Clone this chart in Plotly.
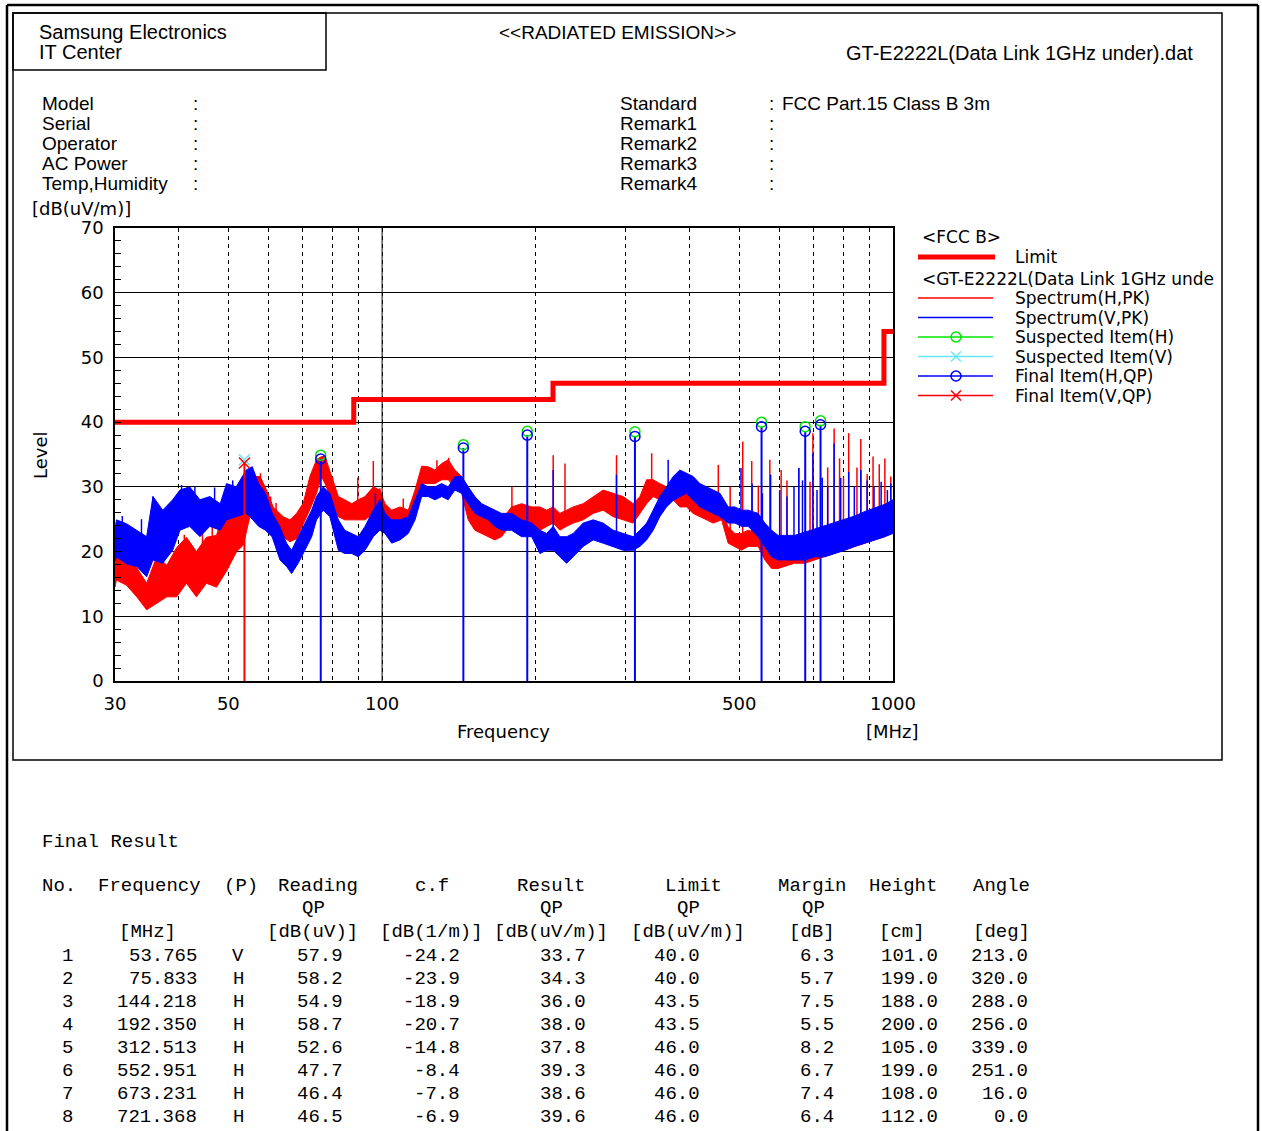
import math
import plotly.graph_objects as go

W, H = 1262, 1131

# ---------------- data ----------------
# Spectrum(H,PK) - red: envelope of the noisy trace (low / high edges), dB(uV/m)
h_freq = [30.0, 30.2, 31.6, 33.1, 34.6, 36.2, 37.9, 39.6, 41.4, 43.3, 45.3, 47.4, 49.6, 51.9, 53.5,
          55.1, 57.7, 59.4, 61.2, 64.0, 66.0, 68.0, 70.1, 72.2, 74.4, 76.1, 77.3, 79.7, 82.1, 84.5,
          87.2, 89.8, 92.6, 96.1, 99.0, 101.3, 104.4, 108.4, 112.5, 116.0, 119.5, 123.1, 126.9, 130.8,
          134.7, 138.8, 143.1, 147.4, 151.9, 156.6, 161.3, 166.2, 171.3, 179.2, 187.5, 196.2, 203.6,
          209.9, 216.2, 222.8, 229.7, 236.6, 247.5, 258.9, 270.8, 283.3, 296.4, 310.0, 319.6, 329.4,
          339.3, 349.6, 360.3, 371.3, 382.7, 394.4, 406.3, 418.7, 431.6, 444.6, 461.8, 475.8, 490.3,
          505.3, 520.5, 544.5, 561.3, 578.5, 596.0, 614.0, 642.0, 672.0, 703.0, 735.0, 769.0, 805.0,
          842.0, 881.0, 921.0, 964.0, 1000.0]
h_lo = [14.5, 15.6, 14.8, 13.0, 11.0, 12.0, 13.0, 13.0, 15.1, 13.0, 15.1, 14.5, 17.0, 20.0, 21.0,
        25.4, 25.0, 24.9, 23.8, 22.3, 21.5, 22.0, 24.4, 26.5, 29.0, 31.6, 30.5, 28.0, 25.4, 24.9,
        24.9, 24.9, 24.9, 25.9, 26.4, 25.4, 24.4, 24.9, 24.4, 25.4, 30.5, 30.5, 30.5, 31.1,
        31.1, 30.0, 29.0, 24.9, 23.3, 22.8, 22.3, 21.8, 22.3, 24.4, 24.0, 24.4, 23.3,
        23.9, 24.4, 23.3, 23.9, 24.4, 24.9, 25.9, 26.4, 25.4, 24.9, 24.4, 25.9, 27.4,
        28.5, 28.0, 27.0, 28.0, 26.9, 26.9, 25.9, 25.4, 24.9, 24.4, 24.9, 21.3, 20.8,
        20.2, 20.8, 20.8, 18.7, 17.4, 17.4, 17.7, 18.2, 18.2, 18.7, 19.2, 19.7, 20.2,
        20.8, 21.3, 21.8, 22.3, 23.3]
h_hi = [19.5, 19.2, 19.0, 17.5, 15.1, 19.2, 17.9, 20.6, 22.2, 20.0, 22.2, 22.5, 27.5, 29.0, 29.5,
        31.6, 31.6, 29.5, 26.9, 25.4, 24.9, 25.9, 27.5, 31.6, 34.2, 34.7, 34.7, 31.6, 28.5, 28.0,
        27.4, 28.0, 28.5, 30.0, 29.5, 27.4, 26.4, 26.9, 26.4, 29.5, 33.2, 33.1, 32.6, 33.6,
        34.2, 32.6, 31.6, 28.0, 26.4, 25.4, 24.9, 24.4, 24.9, 26.9, 27.4, 26.9, 26.9,
        26.4, 26.9, 25.9, 26.4, 26.9, 27.4, 28.5, 29.5, 29.0, 28.5, 27.4, 28.5, 31.1,
        31.1, 30.5, 30.0, 30.0, 30.0, 29.5, 29.0, 27.9, 27.4, 26.9, 26.4, 23.8, 22.8,
        22.8, 23.3, 22.8, 20.8, 19.2, 18.9, 19.2, 19.7, 20.2, 20.8, 21.3, 21.8, 22.3,
        22.8, 23.9, 24.9, 25.4, 26.4]

# Spectrum(V,PK) - blue
v_freq = [30.0, 30.2, 31.6, 33.1, 34.6, 35.6, 37.2, 38.9, 40.2, 42.0, 44.0, 46.0, 48.2, 49.6, 51.8,
          54.2, 55.7, 57.3, 59.1, 60.9, 63.1, 65.0, 66.5, 68.5, 70.6, 72.8, 74.4, 76.7, 79.0, 82.1,
          84.5, 87.2, 89.8, 92.6, 96.1, 99.0, 101.3, 104.4, 108.4, 112.5, 116.0, 119.5, 123.1, 126.9,
          130.8, 134.7, 138.8, 143.1, 147.4, 151.9, 156.6, 161.3, 166.2, 171.3, 179.2, 187.5, 196.2,
          203.6, 209.9, 216.2, 222.8, 229.7, 236.6, 247.5, 258.9, 270.8, 283.3, 296.4, 310.0, 319.6,
          329.4, 339.3, 349.6, 360.3, 371.3, 382.7, 394.4, 406.3, 418.7, 431.6, 444.6, 458.4, 475.8,
          490.3, 505.3, 520.5, 544.5, 561.3, 578.5, 596.0, 614.0, 642.0, 672.0, 703.0, 735.0, 769.0,
          805.0, 842.0, 881.0, 921.0, 964.0, 1000.0]
v_lo = [18.5, 19.2, 18.1, 17.7, 16.1, 18.7, 18.2, 20.2, 23.3, 23.9, 22.3, 23.9, 23.3, 24.9, 25.4,
        25.9, 25.0, 23.9, 23.3, 22.3, 18.7, 17.7, 16.6, 18.2, 20.2, 22.3, 24.9, 26.4, 25.4, 20.2,
        19.7, 19.7, 19.2, 20.2, 22.3, 23.3, 22.8, 21.3, 21.8, 22.8, 24.9, 28.5, 28.5, 28.0,
        28.5, 28.0, 29.5, 29.0, 27.4, 25.9, 25.4, 24.9, 23.9, 23.3, 23.3, 22.3, 22.3,
        19.7, 20.2, 20.2, 19.2, 18.2, 19.2, 20.8, 21.8, 21.3, 20.8, 20.2, 20.2, 20.8,
        21.8, 23.3, 25.4, 26.9, 27.9, 28.5, 29.0, 27.9, 26.9, 26.4, 25.9, 25.4, 24.4,
        24.4, 23.9, 23.9, 22.3, 20.8, 19.2, 18.7, 18.7, 18.7, 18.7, 19.2, 19.2, 19.7,
        20.2, 20.8, 21.3, 21.8, 22.3, 22.8]
v_hi = [23.5, 24.9, 24.3, 23.3, 22.3, 28.5, 26.4, 28.0, 29.5, 30.0, 28.0, 28.5, 27.4, 30.5, 30.0,
        32.6, 33.1, 30.5, 29.0, 26.0, 23.8, 21.3, 20.2, 22.3, 24.3, 26.4, 28.5, 30.0, 29.0, 24.9,
        23.3, 22.8, 22.3, 23.9, 26.4, 28.0, 25.9, 24.9, 24.9, 25.4, 28.0, 30.5, 30.0, 30.0,
        30.5, 30.0, 31.6, 31.6, 30.0, 28.5, 27.4, 26.9, 26.4, 25.9, 25.9, 24.9, 24.4,
        23.3, 22.8, 23.9, 22.3, 22.3, 22.8, 24.4, 24.9, 24.4, 23.3, 22.8, 22.3, 23.3,
        24.4, 26.4, 28.5, 30.0, 31.6, 32.6, 32.1, 31.6, 30.5, 30.0, 29.5, 29.0, 26.9,
        26.9, 26.4, 26.4, 25.9, 24.4, 23.3, 22.5, 22.5, 22.5, 23.0, 23.5, 24.0, 24.5,
        25.0, 25.5, 26.2, 26.8, 27.3, 28.0]

# narrow spikes rising out of the traces (base, top)
h_spike_f = [36.5, 41.0, 44.5, 46.5, 48.5, 50.5, 55.3, 57.8, 60.5, 62.0, 80.0, 89.6, 96.1, 99.0,
             110.0, 128.0, 135.0, 179.5, 216.2, 228.0, 287.6, 337.0, 455.0, 480.0, 508.0, 529.0,
             545.0, 574.0, 604.0, 620.0, 654.0, 688.0, 697.0, 727.0, 745.0, 767.0, 786.0, 800.0,
             819.0, 850.0, 865.0, 890.0, 914.0, 940.0, 964.0, 990.0]
h_spike_base = [14.0, 16.0, 16.0, 16.0, 18.0, 20.0, 29.0, 29.0, 25.0, 24.0, 28.5, 27.0, 28.0, 28.0,
                25.5, 31.0, 31.5, 25.0, 26.0, 25.5, 28.0, 30.0, 26.0, 22.0, 22.0, 22.0,
                21.0, 20.0, 20.0, 19.0, 20.0, 20.0, 20.0, 21.0, 21.0, 21.0, 21.0, 21.0,
                22.0, 22.0, 22.0, 23.0, 23.0, 23.0, 24.0, 25.0]
h_spike_top = [20.5, 22.6, 23.0, 24.0, 26.8, 28.5, 32.0, 32.1, 28.5, 27.5, 31.5, 31.4, 34.0, 29.8,
               28.2, 34.1, 34.5, 30.0, 34.9, 33.6, 34.9, 35.2, 33.4, 30.0, 37.0, 34.0,
               30.2, 34.2, 32.6, 31.0, 32.9, 30.8, 38.3, 31.4, 33.0, 39.0, 34.4, 31.5,
               38.3, 33.0, 37.4, 32.0, 34.7, 33.5, 34.4, 31.6]

v_spike_f = [31.0, 33.8, 35.6, 40.5, 43.0, 47.0, 51.0, 53.0, 55.7, 97.0, 216.2, 287.6, 363.0,
             504.0, 530.0, 555.0, 576.0, 600.0, 620.0, 640.0, 654.0, 665.0, 697.0, 710.0, 727.0,
             745.0, 767.0, 790.0, 819.0, 840.0, 865.0, 890.0, 918.0, 948.0, 975.0, 990.0]
v_spike_base = [22.0, 21.0, 25.0, 27.0, 27.0, 27.0, 28.0, 28.0, 30.0, 26.0, 23.0, 22.0, 29.0,
                26.0, 25.0, 24.0, 22.0, 21.0, 21.0, 21.0, 21.0, 21.0, 21.0, 22.0, 22.0,
                22.0, 22.0, 23.0, 23.0, 23.0, 24.0, 24.0, 25.0, 25.0, 26.0, 26.0]
v_spike_top = [25.5, 25.0, 28.5, 30.3, 30.0, 29.9, 31.0, 30.5, 33.1, 29.0, 32.6, 31.9, 34.2,
               32.9, 30.5, 29.0, 31.9, 29.5, 28.5, 30.0, 32.9, 31.0, 35.2, 29.5, 31.4,
               30.0, 36.7, 31.4, 32.3, 30.0, 32.6, 31.0, 30.0, 30.8, 29.5, 30.5]

# FCC Part 15 Class B 3m limit
limit_f = [30, 88, 216, 960, 1000]
limit_v = [40.0, 43.5, 46.0, 54.0, 54.0]

# Suspected items
susp_h_f = [75.833, 144.218, 192.350, 312.513, 552.951, 673.231, 721.368]
susp_h_v = [34.9, 36.5, 38.6, 38.5, 40.0, 39.3, 40.2]
susp_v_f = [53.765]
susp_v_v = [34.2]

# Final result table
fin_no = [1, 2, 3, 4, 5, 6, 7, 8]
fin_freq = [53.765, 75.833, 144.218, 192.350, 312.513, 552.951, 673.231, 721.368]
fin_pol = ["V", "H", "H", "H", "H", "H", "H", "H"]
fin_read = [57.9, 58.2, 54.9, 58.7, 52.6, 47.7, 46.4, 46.5]
fin_cf = [-24.2, -23.9, -18.9, -20.7, -14.8, -8.4, -7.8, -6.9]
fin_result = [33.7, 34.3, 36.0, 38.0, 37.8, 39.3, 38.6, 39.6]
fin_limit = [40.0, 40.0, 43.5, 43.5, 46.0, 46.0, 46.0, 46.0]
fin_margin = [6.3, 5.7, 7.5, 5.5, 8.2, 6.7, 7.4, 6.4]
fin_height = [101.0, 199.0, 188.0, 200.0, 105.0, 199.0, 108.0, 112.0]
fin_angle = [213.0, 320.0, 288.0, 256.0, 339.0, 251.0, 16.0, 0.0]

x_tickvals = [30, 40, 50, 60, 70, 80, 90, 100, 200, 300, 400, 500, 600, 700, 800, 900, 1000]
x_ticktext = ["30", "", "50", "", "", "", "", "100", "", "", "", "500", "", "", "", "", "1000"]

# ---------------- styling ----------------
RED = "#ff0000"
BLUE = "#0000ff"
GREEN = "#00e600"
CYAN = "#66e6ff"
F_UI = "DejaVu Sans, Liberation Sans, sans-serif"
F_HDR = "Liberation Sans, Arial, sans-serif"
F_TAB = "Liberation Mono, DejaVu Sans Mono, monospace"

fig = go.Figure()


def band(freq, lo, hi, color):
    return go.Scatter(x=list(freq) + list(freq)[::-1], y=list(hi) + list(lo)[::-1],
                      fill="toself", fillcolor=color, mode="lines",
                      line=dict(color=color, width=1), hoverinfo="skip", showlegend=False)


def spikes(freq, base, top, color, width=1.5):
    xs, ys = [], []
    for f, b, t in zip(freq, base, top):
        xs += [f, f, None]
        ys += [b, t, None]
    return go.Scatter(x=xs, y=ys, mode="lines", line=dict(color=color, width=width),
                      hoverinfo="skip", showlegend=False)


fig.add_trace(band(h_freq, h_lo, h_hi, RED))
fig.add_trace(spikes(h_spike_f, h_spike_base, h_spike_top, RED))
fig.add_trace(band(v_freq, v_lo, v_hi, BLUE))
fig.add_trace(spikes(v_spike_f, v_spike_base, v_spike_top, BLUE))

# solid 100 MHz grid line
fig.add_trace(go.Scatter(x=[100, 100], y=[0, 70], mode="lines", line=dict(color="black", width=1),
                         hoverinfo="skip", showlegend=False))

# limit
fig.add_trace(go.Scatter(x=limit_f, y=limit_v, mode="lines", line_shape="hv",
                         line=dict(color=RED, width=5), showlegend=False))

# final item stems
for f, r, p in zip(fin_freq, fin_result, fin_pol):
    fig.add_trace(go.Scatter(x=[f, f], y=[0, r], mode="lines",
                             line=dict(color=BLUE if p == "H" else RED, width=2),
                             hoverinfo="skip", showlegend=False))

# suspected markers
fig.add_trace(go.Scatter(x=susp_h_f, y=susp_h_v, mode="markers",
                         marker=dict(symbol="circle-open", size=10, color=GREEN, line=dict(width=1.5)),
                         showlegend=False))
fig.add_trace(go.Scatter(x=susp_v_f, y=susp_v_v, mode="markers",
                         marker=dict(symbol="x-thin-open", size=11, color=CYAN, line=dict(width=1.5, color=CYAN)),
                         showlegend=False))
# final markers
hf = [f for f, p in zip(fin_freq, fin_pol) if p == "H"]
hr = [r for r, p in zip(fin_result, fin_pol) if p == "H"]
vf = [f for f, p in zip(fin_freq, fin_pol) if p == "V"]
vr = [r for r, p in zip(fin_result, fin_pol) if p == "V"]
fig.add_trace(go.Scatter(x=hf, y=hr, mode="markers",
                         marker=dict(symbol="circle-open", size=10, color=BLUE, line=dict(width=1.5)),
                         showlegend=False))
fig.add_trace(go.Scatter(x=vf, y=vr, mode="markers",
                         marker=dict(symbol="x-thin-open", size=11, color=RED, line=dict(width=1.5, color=RED)),
                         showlegend=False))

# ---------------- overlay (pixel) axes for page decorations ----------------
shapes = []
annots = []


def line(x0, y0, x1, y1, color="black", width=1.5):
    shapes.append(dict(type="line", xref="x2", yref="y2", x0=x0, y0=y0, x1=x1, y1=y1,
                       line=dict(color=color, width=width)))


def rect(x0, y0, x1, y1, width=1.5):
    shapes.append(dict(type="rect", xref="x2", yref="y2", x0=x0, y0=y0, x1=x1, y1=y1,
                       line=dict(color="black", width=width), fillcolor="rgba(0,0,0,0)"))


def text(s, x, y, size=17, anchor="left", family=F_UI, angle=0):
    annots.append(dict(text=s, x=x, y=y, xref="x2", yref="y2", xanchor=anchor, yanchor="middle",
                       showarrow=False, textangle=angle, font=dict(family=family, size=size, color="black")))


# outer frame
line(7, 5, 1258, 5, width=2.5)
line(7, 5, 7, H, width=2.5)
line(1258, 5, 1258, H, width=2.5)
# inner box and header box
rect(13, 13, 1222, 760, width=1.5)
rect(13, 13, 326, 70, width=1.5)

text("Samsung Electronics", 37, 32, 20, family=F_HDR)
text("IT Center", 37, 52, 20, family=F_HDR)
text("&lt;&lt;RADIATED EMISSION&gt;&gt;", 617, 32, 19, anchor="center", family=F_HDR)
text("GT-E2222L(Data Link 1GHz under).dat", 1195, 53, 20, anchor="right", family=F_HDR)

for i, lab in enumerate(["Model", "Serial", "Operator", "AC Power", "Temp,Humidity"]):
    text(lab, 40, 103 + 20 * i, 19, family=F_HDR)
    text(":", 191, 103 + 20 * i, 19, family=F_HDR)
for i, lab in enumerate(["Standard", "Remark1", "Remark2", "Remark3", "Remark4"]):
    text(lab, 618, 103 + 20 * i, 19, family=F_HDR)
    text(":", 767, 103 + 20 * i, 19, family=F_HDR)
text("FCC Part.15 Class B 3m", 780, 103, 19, family=F_HDR)

text("[dB(uV/m)]", 30, 208, 18)
text("Level", 40, 455, 18, anchor="center", angle=-90)
text("Frequency", 503, 731, 18, anchor="center")
text("[MHz]", 892, 731, 18, anchor="center")

# legend
LS = 17
text("&lt;FCC B&gt;", 920, 237, LS)
line(918, 257, 995, 257, RED, 5)
text("Limit", 1013, 257, LS)
text("&lt;GT-E2222L(Data Link 1GHz unde", 920, 279, LS)
leg_rows = [("Spectrum(H,PK)", RED, None), ("Spectrum(V,PK)", BLUE, None),
            ("Suspected Item(H)", GREEN, "circle-open"), ("Suspected Item(V)", CYAN, "x-thin-open"),
            ("Final Item(H,QP)", BLUE, "circle-open"), ("Final Item(V,QP)", RED, "x-thin-open")]
leg_y = [298, 317.5, 337, 356.5, 376, 395.5]
for (lab, col, sym), yy in zip(leg_rows, leg_y):
    line(918, yy, 993, yy, col, 1.5)
    text(lab, 1013, yy, LS)
    if sym:
        fig.add_trace(go.Scatter(x=[956], y=[yy], xaxis="x2", yaxis="y2", mode="markers",
                                 marker=dict(symbol=sym, size=10, color=col, line=dict(width=1.5, color=col)),
                                 hoverinfo="skip", showlegend=False))

# ---------------- final result table ----------------
TS = 19
text("Final Result", 40, 842, TS, family=F_TAB)
hdr_y, qp_y, unit_y, row0, dy = 886, 908, 932, 956, 23
headers = [("No.", 40, "left"), ("Frequency", 96, "left"), ("(P)", 222, "left"), ("Reading", 318, "center"),
           ("c.f", 432, "center"), ("Result", 551, "center"), ("Limit", 693, "center"),
           ("Margin", 812, "center"), ("Height", 903, "center"), ("Angle", 1001, "center")]
for s, x, a in headers:
    text(s, x, hdr_y, TS, anchor=a, family=F_TAB)
for x in [313, 551, 688, 813]:
    text("QP", x, qp_y, TS, anchor="center", family=F_TAB)
units = [("[MHz]", 147), ("[dB(uV)]", 312), ("[dB(1/m)]", 431), ("[dB(uV/m)]", 551),
         ("[dB(uV/m)]", 688), ("[dB]", 812), ("[cm]", 902), ("[deg]", 1001)]
for s, x in units:
    text(s, x, unit_y, TS, anchor="center", family=F_TAB)

for i in range(len(fin_no)):
    yy = row0 + dy * i
    text(str(fin_no[i]), 67, yy, TS, anchor="center", family=F_TAB)
    text(f"{fin_freq[i]:.3f}", 199, yy, TS, anchor="right", family=F_TAB)
    text(fin_pol[i], 238, yy, TS, anchor="center", family=F_TAB)
    text(f"{fin_read[i]:.1f}", 345, yy, TS, anchor="right", family=F_TAB)
    text(f"{fin_cf[i]:.1f}", 462, yy, TS, anchor="right", family=F_TAB)
    text(f"{fin_result[i]:.1f}", 588, yy, TS, anchor="right", family=F_TAB)
    text(f"{fin_limit[i]:.1f}", 702, yy, TS, anchor="right", family=F_TAB)
    text(f"{fin_margin[i]:.1f}", 836, yy, TS, anchor="right", family=F_TAB)
    text(f"{fin_height[i]:.1f}", 940, yy, TS, anchor="right", family=F_TAB)
    text(f"{fin_angle[i]:.1f}", 1030, yy, TS, anchor="right", family=F_TAB)

# ---------------- layout ----------------
fig.update_layout(
    width=W, height=H, margin=dict(l=0, r=0, t=0, b=0, pad=0, autoexpand=False),
    paper_bgcolor="white", plot_bgcolor="rgba(0,0,0,0)", showlegend=False,
    xaxis=dict(type="log", range=[math.log10(30), 3], domain=[115 / W, 893 / W], automargin=False,
               tickvals=x_tickvals, ticktext=x_ticktext, showgrid=True, gridcolor="black",
               gridwidth=1, griddash="4px,4px", showline=True, mirror=True, linecolor="black",
               linewidth=1.5, ticks="", zeroline=False, ticklabelstandoff=6,
               tickfont=dict(family=F_UI, size=18, color="black")),
    yaxis=dict(range=[0, 70], domain=[1 - 681 / H, 1 - 228 / H], dtick=10, showgrid=True, automargin=False,
               gridcolor="black", gridwidth=1, showline=True, mirror=True, linecolor="black",
               linewidth=1.5, ticks="inside", ticklen=6, tickcolor="black", zeroline=False,
               minor=dict(dtick=2, ticks="inside", ticklen=6, tickcolor="black", showgrid=False),
               ticklabelstandoff=6, tickfont=dict(family=F_UI, size=18, color="black")),
    xaxis2=dict(range=[0, W], domain=[0, 1], anchor="y2", visible=False, fixedrange=True, automargin=False),
    yaxis2=dict(range=[H, 0], domain=[0, 1], anchor="x2", visible=False, fixedrange=True, automargin=False),
    shapes=shapes, annotations=annots,
)

fig.write_html("out.html", config={"displayModeBar": False},
               post_script="document.body.style.margin='0';document.body.style.overflow='hidden';")
